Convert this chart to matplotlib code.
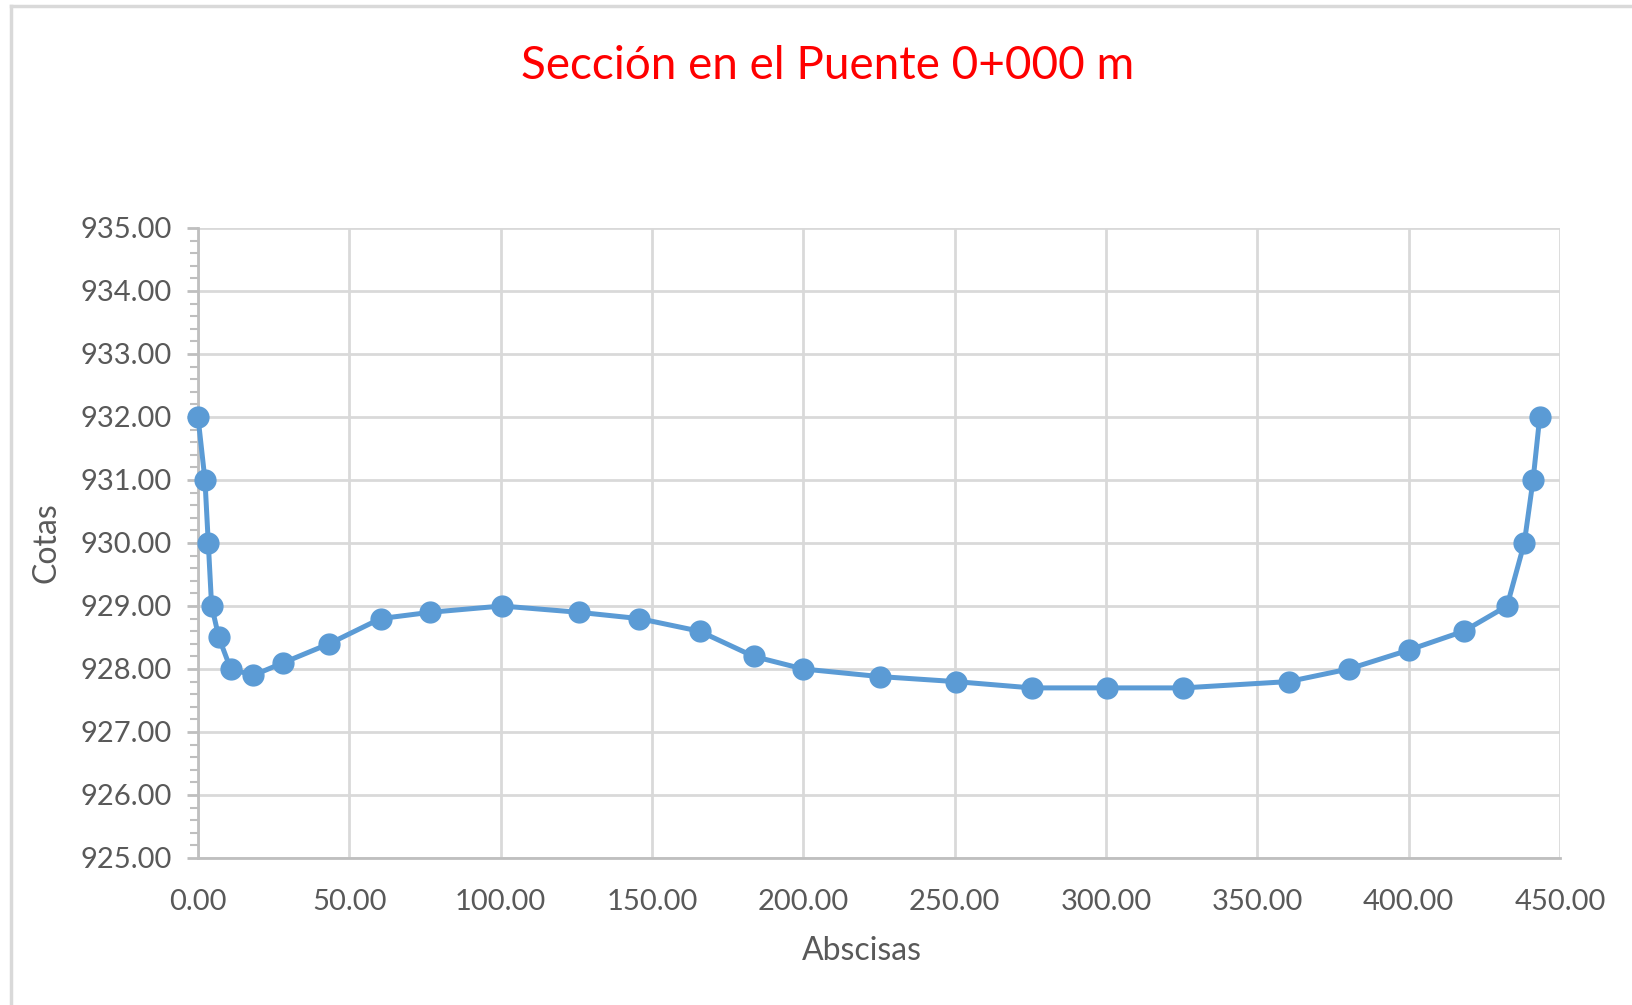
import matplotlib
matplotlib.use("Agg")
import matplotlib.pyplot as plt
from matplotlib.ticker import MultipleLocator, FormatStrFormatter
from matplotlib.lines import Line2D

abscisas = [0.0, 2.3, 3.4, 4.5, 6.9, 10.8, 18.3, 28.2, 43.3, 60.3, 76.7, 100.4,
            125.8, 145.8, 165.7, 183.6, 200.0, 225.2, 250.3, 275.4, 300.4, 325.5,
            360.3, 380.2, 400.0, 418.2, 432.5, 438.2, 441.1, 443.3]
cotas = [932.0, 931.0, 930.0, 929.0, 928.5, 928.0, 927.9, 928.1, 928.4, 928.8, 928.9, 929.0,
         928.9, 928.8, 928.6, 928.2, 928.0, 927.88, 927.8, 927.7, 927.7, 927.7,
         927.8, 928.0, 928.3, 928.6, 929.0, 930.0, 931.0, 932.0]

title = "Sección en el Puente 0+000 m"
xlabel = "Abscisas"
ylabel = "Cotas"

plt.rcParams['font.family'] = ['Lato', 'DejaVu Sans']

fig = plt.figure(figsize=(16.33, 10.05), dpi=100)
ax = fig.add_axes([198/1633, 147/1005, (1560-198)/1633, (858-228)/1005])

line_color = '#5b9bd5'
ax.plot(abscisas, cotas, color=line_color, lw=3.6, marker='o', markersize=15,
        markerfacecolor=line_color, markeredgecolor=line_color, clip_on=False, zorder=3)

ax.set_xlim(0, 450)
ax.set_ylim(925, 935)
ax.xaxis.set_major_locator(MultipleLocator(50))
ax.yaxis.set_major_locator(MultipleLocator(1))
ax.yaxis.set_minor_locator(MultipleLocator(0.2))
ax.xaxis.set_major_formatter(FormatStrFormatter('%.2f'))
ax.yaxis.set_major_formatter(FormatStrFormatter('%.2f'))

ax.grid(True, which='major', color='#d9d9d9', lw=2.0)
ax.set_axisbelow(True)
for s in ['top', 'right']:
    ax.spines[s].set_visible(False)
for s in ['left', 'bottom']:
    ax.spines[s].set_color('#bfbfbf')
    ax.spines[s].set_linewidth(2.0)

ax.tick_params(axis='y', which='major', length=8, width=2, color='#bfbfbf',
               labelsize=21, labelcolor='#595959', pad=11)
ax.tick_params(axis='y', which='minor', length=6, width=1.5, color='#bfbfbf')
ax.tick_params(axis='x', which='major', length=0, labelsize=21, labelcolor='#595959', pad=22)

fig.text(0.507, 0.934, title, color='#ff0000', fontsize=33, ha='center', va='center')
fig.text(862/1633, 1 - 951/1005, xlabel, color='#595959', fontsize=23, ha='center', va='center')
fig.text(47/1633, 1 - 543/1005, ylabel, color='#595959', fontsize=23, ha='center', va='center',
         rotation=90)

# chart area border (left and top only visible)
fig.add_artist(Line2D([11.5/1633, 11.5/1633], [0, 1 - 6/1005], transform=fig.transFigure,
                      color='#d9d9d9', lw=2.5))
fig.add_artist(Line2D([11.5/1633, 1], [1 - 6/1005, 1 - 6/1005], transform=fig.transFigure,
                      color='#d9d9d9', lw=2.5))

fig.savefig('out.png', dpi=100)
